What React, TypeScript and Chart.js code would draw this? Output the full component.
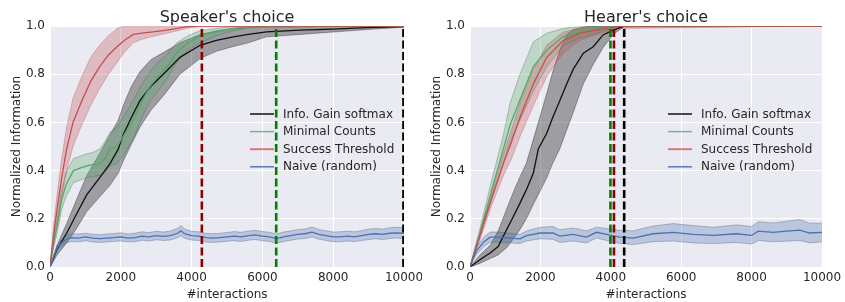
import React, { useEffect, useRef } from "react";
import { Chart, registerables } from "chart.js";
Chart.register(...registerables);

// ---------- shared ----------
const X_TICK_STEP = 2000;
const Y_TICK_STEP = 0.2;
const LEGEND_LABELS = ["Info. Gain softmax", "Minimal Counts", "Success Threshold", "Naive (random)"];
const TITLES = ["Speaker's choice", "Hearer's choice"];
const X_TITLE = "#interactions";
const Y_TITLE = "Normalized Information";

// ---------- Speaker's choice ----------
const S_BLACK_X = [0, 200, 470, 750, 1040, 1400, 1700, 1930, 2070, 2300, 2540, 2850, 3200, 3670, 4240, 4700, 5180, 5600, 6120, 7060, 8000, 8950, 10000];
const S_BLACK_Y = [0, 0.075, 0.14, 0.22, 0.3, 0.37, 0.43, 0.49, 0.55, 0.62, 0.69, 0.75, 0.8, 0.87, 0.92, 0.94, 0.955, 0.965, 0.976, 0.983, 0.987, 0.993, 0.998];
const S_BLACK_UP = [0, 0.09, 0.18, 0.28, 0.38, 0.47, 0.55, 0.61, 0.67, 0.75, 0.81, 0.86, 0.89, 0.93, 0.965, 0.98, 0.99, 0.993, 0.995, 0.997, 0.998, 0.999, 1.0];
const S_BLACK_LO = [0, 0.05, 0.1, 0.16, 0.23, 0.29, 0.34, 0.39, 0.44, 0.51, 0.58, 0.65, 0.71, 0.8, 0.865, 0.895, 0.915, 0.93, 0.955, 0.965, 0.975, 0.985, 0.995];

const S_GREEN_X = [0, 100, 200, 330, 450, 660, 850, 1040, 1200, 1410, 1550, 1700, 1900, 2100, 2350, 2600, 2830, 3050, 3300, 3580, 3900, 4240, 4700, 5180, 5650, 6500, 10000];
const S_GREEN_Y = [0, 0.1, 0.17, 0.28, 0.34, 0.4, 0.41, 0.42, 0.425, 0.43, 0.45, 0.49, 0.5, 0.55, 0.61, 0.69, 0.75, 0.79, 0.83, 0.89, 0.93, 0.96, 0.976, 0.99, 0.998, 1, 1];
const S_GREEN_UP = [0, 0.12, 0.2, 0.32, 0.39, 0.45, 0.46, 0.47, 0.475, 0.49, 0.52, 0.56, 0.58, 0.63, 0.69, 0.76, 0.81, 0.85, 0.88, 0.93, 0.96, 0.98, 0.99, 0.998, 1, 1, 1];
const S_GREEN_LO = [0, 0.08, 0.14, 0.24, 0.29, 0.35, 0.36, 0.37, 0.375, 0.38, 0.39, 0.42, 0.43, 0.47, 0.53, 0.62, 0.69, 0.73, 0.78, 0.85, 0.9, 0.93, 0.96, 0.98, 0.995, 1, 1];

const S_RED_X = [0, 100, 200, 330, 470, 650, 900, 1150, 1400, 1650, 1900, 2100, 2350, 2600, 2850, 3300, 3600, 3860, 4300, 10000];
const S_RED_Y = [0, 0.13, 0.24, 0.37, 0.49, 0.6, 0.69, 0.77, 0.83, 0.88, 0.915, 0.94, 0.965, 0.97, 0.975, 0.983, 0.99, 0.997, 1, 1];
const S_RED_UP = [0, 0.17, 0.3, 0.45, 0.58, 0.7, 0.79, 0.87, 0.92, 0.96, 0.99, 1, 1, 1, 1, 1, 1, 1, 1, 1];
const S_RED_LO = [0, 0.09, 0.18, 0.29, 0.4, 0.5, 0.59, 0.67, 0.74, 0.8, 0.85, 0.89, 0.93, 0.945, 0.955, 0.97, 0.98, 0.99, 1, 1];

const S_BLUE_X = [0, 200, 400, 600, 800, 1000, 1200, 1400, 1600, 1800, 2000, 2200, 2400, 2600, 2800, 3000, 3200, 3400, 3600, 3700, 3800, 4000, 4200, 4400, 4600, 4800, 5000, 5200, 5400, 5600, 5800, 6000, 6200, 6400, 6600, 6800, 7000, 7200, 7400, 7600, 7800, 8000, 8200, 8400, 8600, 8800, 9000, 9200, 9400, 9600, 9800, 10000];
const S_BLUE_Y = [0, 0.08, 0.11, 0.122, 0.12, 0.125, 0.12, 0.118, 0.12, 0.122, 0.125, 0.12, 0.122, 0.128, 0.125, 0.13, 0.127, 0.13, 0.14, 0.15, 0.138, 0.13, 0.128, 0.122, 0.12, 0.122, 0.125, 0.128, 0.125, 0.13, 0.133, 0.128, 0.125, 0.118, 0.125, 0.13, 0.135, 0.138, 0.145, 0.135, 0.13, 0.125, 0.125, 0.128, 0.125, 0.13, 0.135, 0.138, 0.135, 0.14, 0.142, 0.14];
const S_BLUE_UP = [0, 0.09, 0.125, 0.138, 0.137, 0.14, 0.136, 0.134, 0.137, 0.139, 0.142, 0.137, 0.14, 0.146, 0.143, 0.148, 0.145, 0.149, 0.16, 0.172, 0.158, 0.148, 0.146, 0.14, 0.138, 0.14, 0.143, 0.147, 0.144, 0.149, 0.152, 0.147, 0.144, 0.137, 0.145, 0.15, 0.155, 0.158, 0.166, 0.155, 0.15, 0.145, 0.146, 0.149, 0.146, 0.151, 0.157, 0.16, 0.157, 0.163, 0.165, 0.163];
const S_BLUE_LO = [0, 0.07, 0.097, 0.106, 0.104, 0.109, 0.104, 0.102, 0.104, 0.106, 0.108, 0.104, 0.105, 0.111, 0.108, 0.113, 0.11, 0.112, 0.121, 0.13, 0.119, 0.112, 0.11, 0.104, 0.102, 0.104, 0.107, 0.109, 0.106, 0.111, 0.114, 0.109, 0.106, 0.099, 0.106, 0.111, 0.116, 0.118, 0.125, 0.115, 0.11, 0.105, 0.105, 0.108, 0.105, 0.11, 0.114, 0.117, 0.114, 0.118, 0.12, 0.118];

const S_VLINES = [4290, 6390, 9985];

// ---------- Hearer's choice ----------
const H_BLACK_X = [0, 280, 570, 800, 1040, 1200, 1420, 1600, 1800, 1940, 2180, 2350, 2550, 2750, 2930, 3220, 3500, 3780, 4070, 4400, 10000];
const H_BLACK_Y = [0, 0.03, 0.058, 0.085, 0.155, 0.2, 0.265, 0.32, 0.39, 0.49, 0.555, 0.62, 0.69, 0.76, 0.82, 0.887, 0.914, 0.963, 0.983, 1, 1];
const H_BLACK_UP = [0, 0.05, 0.09, 0.15, 0.24, 0.3, 0.375, 0.43, 0.53, 0.6, 0.72, 0.81, 0.9, 0.965, 0.985, 0.995, 1, 1, 1, 1, 1];
const H_BLACK_LO = [0, 0.015, 0.035, 0.05, 0.08, 0.11, 0.155, 0.2, 0.26, 0.3, 0.37, 0.43, 0.49, 0.57, 0.64, 0.76, 0.84, 0.91, 0.965, 1, 1];

const H_GREEN_X = [0, 300, 600, 950, 1140, 1420, 1800, 2180, 2650, 3120, 3690, 4160, 10000];
const H_GREEN_Y = [0, 0.15, 0.31, 0.49, 0.59, 0.694, 0.832, 0.9, 0.956, 0.976, 0.99, 1, 1];
const H_GREEN_UP = [0, 0.17, 0.35, 0.55, 0.68, 0.8, 0.935, 0.97, 0.99, 0.997, 1, 1, 1];
const H_GREEN_LO = [0, 0.13, 0.27, 0.43, 0.52, 0.61, 0.73, 0.83, 0.92, 0.95, 0.975, 0.995, 1];

const H_RED_X = [0, 300, 600, 950, 1180, 1420, 1800, 2180, 2650, 3120, 3690, 4260, 10000];
const H_RED_Y = [0, 0.14, 0.28, 0.43, 0.52, 0.62, 0.76, 0.87, 0.94, 0.97, 0.986, 1, 1];
const H_RED_UP = [0, 0.15, 0.3, 0.47, 0.57, 0.68, 0.82, 0.92, 0.975, 0.99, 0.997, 1, 1];
const H_RED_LO = [0, 0.12, 0.25, 0.38, 0.45, 0.54, 0.67, 0.79, 0.89, 0.94, 0.97, 0.99, 1];

const H_BLUE_X = [0, 100, 200, 400, 570, 800, 1130, 1420, 1610, 1990, 2360, 2550, 2930, 3310, 3590, 3880, 4260, 4640, 5200, 5770, 6340, 6910, 7570, 8000, 8190, 8610, 8990, 9370, 9650, 10000];
const H_BLUE_Y = [0, 0.04, 0.07, 0.105, 0.124, 0.124, 0.12, 0.117, 0.13, 0.141, 0.141, 0.128, 0.135, 0.124, 0.144, 0.135, 0.124, 0.12, 0.138, 0.144, 0.135, 0.131, 0.138, 0.131, 0.149, 0.144, 0.149, 0.153, 0.141, 0.144];
const H_BLUE_UP = [0, 0.05, 0.085, 0.125, 0.145, 0.145, 0.14, 0.135, 0.15, 0.165, 0.168, 0.155, 0.162, 0.15, 0.165, 0.16, 0.152, 0.15, 0.17, 0.18, 0.172, 0.165, 0.175, 0.168, 0.188, 0.183, 0.19, 0.197, 0.182, 0.182];
const H_BLUE_LO = [0, 0.03, 0.055, 0.085, 0.103, 0.103, 0.1, 0.098, 0.108, 0.117, 0.115, 0.102, 0.108, 0.1, 0.12, 0.11, 0.098, 0.093, 0.105, 0.108, 0.1, 0.097, 0.102, 0.095, 0.11, 0.105, 0.107, 0.11, 0.1, 0.105];

const H_VLINES = [3990, 4090, 4380];

// ---------- styles ----------
const LINE_COLORS = ["#111111", "#55A868", "#C44E52", "#4C72B0"];
const BAND_FILLS = ["rgba(0,0,0,0.33)", "rgba(85,168,104,0.3)", "rgba(196,78,82,0.3)", "rgba(76,114,176,0.3)"];
const BAND_EDGES = ["rgba(0,0,0,0.4)", "rgba(60,110,70,0.45)", "rgba(170,70,74,0.4)", "rgba(70,90,120,0.45)"];
const LEGEND_COLORS = ["#000000", "#6ab87c", "#d9787b", "#4C72B0"];
const DARKRED = "#8B0000";
const GREEN = "#008000";
const BLACK = "#000000";
const FONT = "'DejaVu Sans', 'Liberation Sans', sans-serif";
const TEXT = "#262626";

const pts = (xs: number[], ys: number[]) => xs.map((x, i) => ({ x, y: ys[i] }));

type Series = { x: number[]; y: number[]; up: number[]; lo: number[] };

function buildDatasets(series: Series[], vlines: number[], vcolors: string[]) {
  const ds: any[] = [];
  series.forEach((s, i) => {
    ds.push({
      data: pts(s.x, s.lo), borderColor: BAND_EDGES[i], borderWidth: 0.8, pointRadius: 0, fill: false, order: 10 - i,
    });
    ds.push({
      data: pts(s.x, s.up), borderColor: BAND_EDGES[i], borderWidth: 0.8, pointRadius: 0,
      fill: "-1", backgroundColor: BAND_FILLS[i], order: 10 - i,
    });
  });
  series.forEach((s, i) => {
    ds.push({
      data: pts(s.x, s.y), borderColor: LINE_COLORS[i], borderWidth: 1.3, pointRadius: 0, fill: false, order: 5 - i,
    });
  });
  vlines.forEach((v, i) => {
    ds.push({
      data: [{ x: v, y: 0 }, { x: v, y: 1 }], borderColor: vcolors[i], borderWidth: 2.6,
      borderDash: [8, 3.5], pointRadius: 0, fill: false, order: 0,
    });
  });
  return ds;
}

const bgPlugin = {
  id: "bgArea",
  beforeDraw(chart: any) {
    const { ctx, chartArea: a } = chart;
    ctx.save();
    ctx.fillStyle = "#EAEAF2";
    ctx.fillRect(a.left, a.top, a.right - a.left, a.bottom - a.top);
    ctx.restore();
  },
};

const decoPlugin = {
  id: "deco",
  afterDatasetsDraw(chart: any, _args: any, opts: any) {
    const { ctx, chartArea: a } = chart;
    ctx.save();
    // title
    ctx.fillStyle = TEXT;
    ctx.font = `16px ${FONT}`;
    ctx.textAlign = "center";
    ctx.textBaseline = "alphabetic";
    ctx.fillText(opts.title, (a.left + a.right) / 2, 22);
    // legend
    ctx.font = `12px ${FONT}`;
    ctx.textAlign = "left";
    ctx.textBaseline = "middle";
    LEGEND_LABELS.forEach((lab: string, i: number) => {
      const y = a.top + 88 + i * 17.6;
      ctx.strokeStyle = LEGEND_COLORS[i];
      ctx.lineWidth = i === 2 ? 2 : 1.4;
      ctx.setLineDash([]);
      ctx.beginPath();
      ctx.moveTo(a.right - 154, y);
      ctx.lineTo(a.right - 130, y);
      ctx.stroke();
      ctx.fillStyle = TEXT;
      ctx.fillText(lab, a.right - 121, y + 0.5);
    });
    ctx.restore();
  },
};

function makeConfig(series: Series[], vlines: number[], vcolors: string[], title: string, yWidth: number, padRight: number, yTitlePad: number) {
  return {
    type: "line" as const,
    data: { datasets: buildDatasets(series, vlines, vcolors) },
    plugins: [bgPlugin, decoPlugin],
    options: {
      animation: false as const,
      responsive: false,
      devicePixelRatio: 1,
      layout: { padding: { top: 26, right: padRight, left: 0, bottom: 0 } },
      elements: { line: { tension: 0 } },
      plugins: {
        legend: { display: false },
        tooltip: { enabled: false },
        deco: { title },
      },
      scales: {
        x: {
          type: "linear" as const,
          min: 0,
          max: 10000,
          afterFit: (s: any) => { s.height = 35; s.paddingRight = 0; s.paddingLeft = 0; },
          border: { display: false },
          grid: { color: "#ffffff", lineWidth: 1, drawTicks: false },
          ticks: {
            stepSize: X_TICK_STEP, padding: 4, maxRotation: 0,
            color: TEXT, font: { family: FONT, size: 12 },
            callback: (v: any) => String(v),
          },
          title: { display: true, text: X_TITLE, color: TEXT, font: { family: FONT, size: 12 }, padding: { top: 0, bottom: 0 } },
        },
        y: {
          min: 0,
          max: 1,
          afterFit: (s: any) => { s.width = yWidth; s.paddingTop = 0; s.paddingBottom = 0; },
          border: { display: false },
          grid: { color: "#ffffff", lineWidth: 1, drawTicks: false },
          ticks: {
            stepSize: Y_TICK_STEP, padding: 5,
            color: TEXT, font: { family: FONT, size: 12 },
            callback: (v: any) => Number(v).toFixed(1),
          },
          title: { display: true, text: Y_TITLE, color: TEXT, font: { family: FONT, size: 12 }, padding: { top: yTitlePad, bottom: 0 } },
        },
      },
    },
  };
}

function Panel(props: { series: Series[]; vlines: number[]; vcolors: string[]; title: string; width: number; yWidth: number; padRight: number; yTitlePad: number }) {
  const ref = useRef<HTMLCanvasElement | null>(null);
  useEffect(() => {
    if (!ref.current) return;
    const chart = new Chart(ref.current, makeConfig(props.series, props.vlines, props.vcolors, props.title, props.yWidth, props.padRight, props.yTitlePad) as any);
    return () => chart.destroy();
  }, []);
  return <canvas ref={ref} width={props.width} height={302} style={{ display: "block", width: props.width, height: 302 }} />;
}

export default function App() {
  const speaker: Series[] = [
    { x: S_BLACK_X, y: S_BLACK_Y, up: S_BLACK_UP, lo: S_BLACK_LO },
    { x: S_GREEN_X, y: S_GREEN_Y, up: S_GREEN_UP, lo: S_GREEN_LO },
    { x: S_RED_X, y: S_RED_Y, up: S_RED_UP, lo: S_RED_LO },
    { x: S_BLUE_X, y: S_BLUE_Y, up: S_BLUE_UP, lo: S_BLUE_LO },
  ];
  const hearer: Series[] = [
    { x: H_BLACK_X, y: H_BLACK_Y, up: H_BLACK_UP, lo: H_BLACK_LO },
    { x: H_GREEN_X, y: H_GREEN_Y, up: H_GREEN_UP, lo: H_GREEN_LO },
    { x: H_RED_X, y: H_RED_Y, up: H_RED_UP, lo: H_RED_LO },
    { x: H_BLUE_X, y: H_BLUE_Y, up: H_BLUE_UP, lo: H_BLUE_LO },
  ];
  return (
    <div style={{ position: "absolute", left: 0, top: 0, width: 845, height: 302, display: "flex", background: "#ffffff" }}>
      <Panel series={speaker} vlines={S_VLINES} vcolors={[DARKRED, GREEN, BLACK]} title={TITLES[0]} width={422} yWidth={50} padRight={18} yTitlePad={10} />
      <Panel series={hearer} vlines={H_VLINES} vcolors={[GREEN, DARKRED, BLACK]} title={TITLES[1]} width={423} yWidth={48} padRight={23} yTitlePad={8} />
    </div>
  );
}
